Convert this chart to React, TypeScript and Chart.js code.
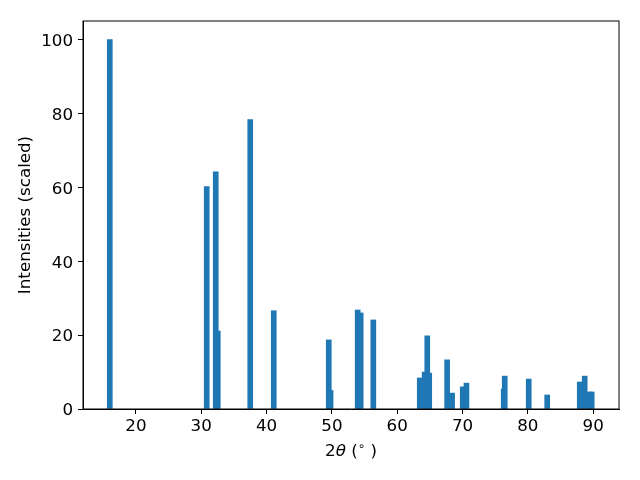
import React, { useEffect, useRef } from "react";
import { Chart, registerables } from "chart.js";

Chart.register(...registerables);

// Peak positions (2θ, degrees) and scaled intensities
const twoTheta = [
  16.0, 30.84, 32.22, 32.53, 37.5, 41.1, 49.52, 49.8, 53.95, 54.41, 56.34,
  63.45, 64.2, 64.6, 64.9, 67.64, 68.4, 70.03, 70.6, 76.3, 76.46, 80.13,
  82.96, 87.94, 88.7, 89.46, 89.77,
];
const intensities = [
  100, 60.2, 64.2, 21.1, 78.3, 26.6, 18.7, 5.0, 26.8, 26.0, 24.1,
  8.4, 10.0, 19.8, 9.7, 13.3, 4.3, 6.0, 7.0, 5.4, 8.9, 8.1,
  3.8, 7.3, 8.9, 4.6, 4.6,
];
const xTicks = [20, 30, 40, 50, 60, 70, 80, 90];
const yTicks = [0, 20, 40, 60, 80, 100];
// x label pieces: "2", italic "θ", " (", superscript "∘", " )"
const xLabelParts = ["2", "θ", " (", "∘", " )"];
const yLabel = "Intensities (scaled)";

const FONT = "'DejaVu Sans', sans-serif";
const FS = 16.7;

const framePlugin = {
  id: "frame",
  afterDraw(chart: any) {
    const { ctx, chartArea: a } = chart;
    ctx.save();
    ctx.strokeStyle = "#000";
    ctx.lineWidth = 1;
    ctx.strokeRect(a.left, a.top, a.right - a.left, a.bottom - a.top);

    // x axis title with math styling
    const styles = [
      { font: `${FS}px ${FONT}`, dy: 0 },
      { font: `italic ${FS}px ${FONT}`, dy: 0 },
      { font: `${FS}px ${FONT}`, dy: 0 },
      { font: `${FS * 0.7}px ${FONT}`, dy: -5 },
      { font: `${FS}px ${FONT}`, dy: 0 },
    ];
    const widths = xLabelParts.map((t, i) => {
      ctx.font = styles[i].font;
      return ctx.measureText(t).width;
    });
    const total = widths.reduce((s, w) => s + w, 0);
    let x = (a.left + a.right) / 2 - total / 2;
    const y = 452;
    ctx.fillStyle = "#000";
    ctx.textBaseline = "middle";
    ctx.textAlign = "left";
    xLabelParts.forEach((t, i) => {
      ctx.font = styles[i].font;
      ctx.fillText(t, x, y + styles[i].dy);
      x += widths[i];
    });
    ctx.restore();
  },
};

export default function App() {
  const ref = useRef<HTMLCanvasElement | null>(null);
  useEffect(() => {
    if (!ref.current) return;
    const chart = new Chart(ref.current, {
      type: "bar",
      data: {
        datasets: [
          {
            data: twoTheta.map((x, i) => ({ x, y: intensities[i] })),
            backgroundColor: "#1f77b4",
            borderWidth: 0,
            barThickness: 5,
          } as any,
        ],
      },
      options: {
        animation: false,
        responsive: false,
        layout: { padding: { top: 21, right: 21, left: 0, bottom: 0 } },
        plugins: { legend: { display: false }, tooltip: { enabled: false } },
        scales: {
          x: {
            type: "linear",
            min: 11.9,
            max: 93.95,
            offset: false,
            afterFit: (s: any) => {
              s.height = 71;
            },
            afterBuildTicks: (s: any) => {
              s.ticks = xTicks.map((v) => ({ value: v }));
            },
            grid: {
              offset: false,
              drawOnChartArea: false,
              drawTicks: true,
              tickLength: 5,
              tickColor: "#000",
            },
            border: { display: true, color: "#000" },
            ticks: {
              color: "#000",
              padding: 3,
              maxRotation: 0,
              font: { family: FONT, size: FS },
            },
            title: { display: false },
          },
          y: {
            type: "linear",
            min: 0,
            max: 105,
            afterFit: (s: any) => {
              s.width = 83;
            },
            afterBuildTicks: (s: any) => {
              s.ticks = yTicks.map((v) => ({ value: v }));
            },
            grid: {
              drawOnChartArea: false,
              drawTicks: true,
              tickLength: 5,
              tickColor: "#000",
            },
            border: { display: true, color: "#000" },
            ticks: {
              color: "#000",
              padding: 5,
              labelOffset: 2,
              font: { family: FONT, size: FS },
            },
            title: {
              display: true,
              text: yLabel,
              color: "#000",
              padding: { top: 16, bottom: 0 },
              font: { family: FONT, size: FS },
            },
          },
        },
      },
      plugins: [framePlugin],
    });
    return () => chart.destroy();
  }, []);
  return (
    <canvas
      ref={ref}
      width={640}
      height={480}
      style={{ position: "absolute", left: 0, top: 0, width: 640, height: 480 }}
    />
  );
}
